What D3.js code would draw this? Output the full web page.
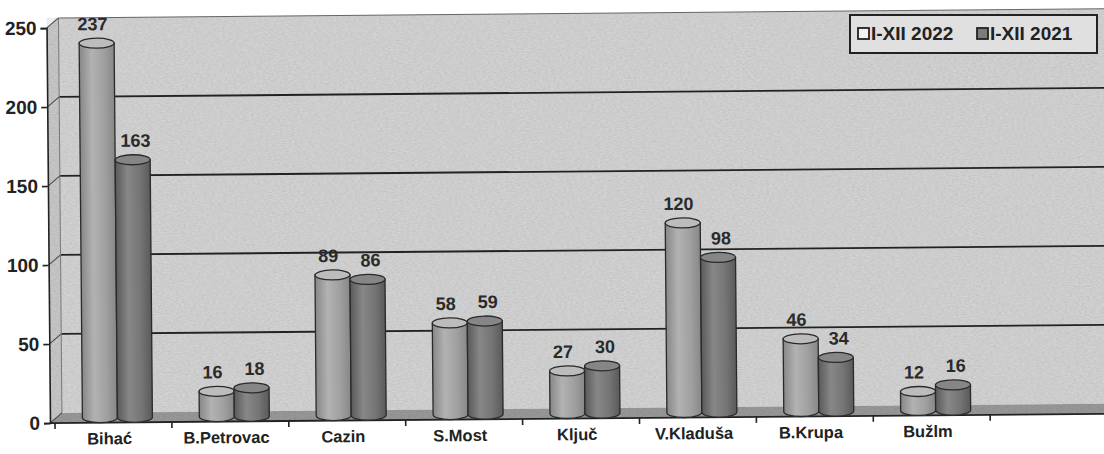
<!DOCTYPE html>
<html>
<head>
<meta charset="utf-8">
<script src="https://cdn.jsdelivr.net/npm/d3@7"></script>
<style>
  body { margin: 0; background: #fff; }
  svg { display: block; font-family: "Liberation Sans", Arial, sans-serif; }
</style>
</head>
<body>
<svg id="svg" width="1104" height="454"></svg>
<script>
// data
var categories = ["Bihać", "B.Petrovac", "Cazin", "S.Most", "Ključ", "V.Kladuša", "B.Krupa", "Bužlm"];
var values2022 = [237, 16, 89, 58, 27, 120, 46, 12];
var values2021 = [163, 18, 86, 59, 30, 98, 34, 16];
var seriesNames = ["I-XII 2022", "I-XII 2021"];
var yTicks = [0, 50, 100, 150, 200, 250];

var svg = d3.select("#svg"),
    width = +svg.attr("width"),
    height = +svg.attr("height");

var depthX = 12, depthY = -10;   // back wall offset
var slots = 9;                    // one empty slot at the right

var x = d3.scaleBand()
    .domain(d3.range(slots))
    .range([55, 55 + slots * 116.9])
    .padding(0);

var y = d3.scaleLinear()
    .domain([0, 250])
    .range([423, 28]);

var defs = svg.append("defs");

// scanned paper grain
var f = defs.append("filter").attr("id", "grain").attr("x", 0).attr("y", 0).attr("width", 1).attr("height", 1);
f.append("feTurbulence").attr("type", "fractalNoise").attr("baseFrequency", "0.35 0.9").attr("numOctaves", 2).attr("seed", 3).attr("result", "n");
f.append("feColorMatrix").attr("type", "matrix")
    .attr("values", "0 0 0 0 0  0 0 0 0 0  0 0 0 0 0  0 0 0 0.14 0");

function cylGrad(id, dark, mid, light) {
    var g = defs.append("linearGradient").attr("id", id).attr("x1", 0).attr("x2", 1);
    g.append("stop").attr("offset", "0%").attr("stop-color", dark);
    g.append("stop").attr("offset", "35%").attr("stop-color", light);
    g.append("stop").attr("offset", "70%").attr("stop-color", mid);
    g.append("stop").attr("offset", "100%").attr("stop-color", dark);
}
cylGrad("c2022", "#878787", "#a0a0a0", "#b2b2b2");
cylGrad("c2021", "#5a5a5a", "#757575", "#878787");
var topFill = ["#bcbcbc", "#868686"];
var swatch = ["#f2f2f2", "#7b7b7b"];

var chart = svg.append("g").attr("transform", "rotate(-0.5, 55, 423)");

var x0 = 50, xEnd = 1130;

// back wall
chart.append("rect")
    .attr("x", x0 + depthX).attr("y", y(250) + depthY)
    .attr("width", xEnd - x0).attr("height", y(0) - y(250))
    .attr("fill", "#dcdcdc");

// left side wall
chart.append("path")
    .attr("d", "M" + x0 + "," + y(0) + "L" + x0 + "," + y(250) +
        "L" + (x0 + depthX) + "," + (y(250) + depthY) + "L" + (x0 + depthX) + "," + (y(0) + depthY) + "Z")
    .attr("fill", "#d0d0d0");

// floor
chart.append("path")
    .attr("d", "M" + x0 + "," + y(0) + "L" + (x0 + depthX) + "," + (y(0) + depthY) +
        "L" + xEnd + "," + (y(0) + depthY) + "L" + xEnd + "," + y(0) + "Z")
    .attr("fill", "#9f9f9f");

// grain overlay
chart.append("rect")
    .attr("x", x0).attr("y", y(250) + depthY)
    .attr("width", xEnd - x0).attr("height", y(0) - y(250) - depthY)
    .attr("filter", "url(#grain)");

// gridlines on back wall + side wall diagonals
var grid = chart.append("g");
grid.selectAll("line.g")
    .data(yTicks.filter(function (d) { return d > 0; }))
    .enter().append("line")
    .attr("x1", x0 + depthX).attr("x2", xEnd)
    .attr("y1", function (d) { return y(d) + depthY; })
    .attr("y2", function (d) { return y(d) + depthY; })
    .attr("stroke", function (d) { return d == 250 ? "#666" : "#222"; })
    .attr("stroke-width", function (d) { return d == 250 ? 1 : 1.8; });
grid.selectAll("line.d")
    .data(yTicks)
    .enter().append("line")
    .attr("x1", x0).attr("y1", function (d) { return y(d); })
    .attr("x2", x0 + depthX).attr("y2", function (d) { return y(d) + depthY; })
    .attr("stroke", "#444").attr("stroke-width", 1);
chart.append("line")
    .attr("x1", x0 + depthX).attr("x2", x0 + depthX)
    .attr("y1", y(0) + depthY).attr("y2", y(250) + depthY)
    .attr("stroke", "#777").attr("stroke-width", 1);

// y axis
var yAxis = chart.append("g")
    .attr("transform", "translate(" + x0 + ",0)")
    .call(d3.axisLeft(y).tickValues(yTicks).tickSize(6).tickPadding(4));
yAxis.select(".domain").attr("stroke", "#222").attr("stroke-width", 1.6);
yAxis.selectAll(".tick line").attr("stroke", "#222").attr("stroke-width", 1.6);
yAxis.selectAll(".tick text")
    .attr("font-size", 19).attr("font-weight", "bold").attr("fill", "#222")
    .attr("font-family", "Liberation Sans, Arial, sans-serif");

// x axis
var xAxis = chart.append("g")
    .attr("transform", "translate(0," + y(0) + ")")
    .call(d3.axisBottom(x).tickSize(0).tickFormat(function (i) { return categories[i] || ""; }).tickPadding(10));
xAxis.select(".domain").remove();
xAxis.append("line").attr("x1", x0).attr("x2", xEnd).attr("stroke", "#222").attr("stroke-width", 1.8);
xAxis.selectAll("line.t")
    .data(d3.range(slots + 1))
    .enter().append("line")
    .attr("x1", function (i) { return x.range()[0] + i * x.bandwidth(); })
    .attr("x2", function (i) { return x.range()[0] + i * x.bandwidth(); })
    .attr("y1", 0).attr("y2", 6)
    .attr("stroke", "#222").attr("stroke-width", 1.6);
xAxis.selectAll(".tick text")
    .attr("font-size", 16.5).attr("font-weight", "bold").attr("fill", "#222")
    .attr("dx", -4)
    .attr("font-family", "Liberation Sans, Arial, sans-serif");

// cylinders
var cw = 35, ry = 5, offX = 4, offY = -5;
var bars = [];
categories.forEach(function (c, i) {
    var cx = x(i) + x.bandwidth() / 2 + offX;
    bars.push({ s: 0, v: values2022[i], left: cx - cw });
    bars.push({ s: 1, v: values2021[i], left: cx });
});

var cyl = chart.append("g").selectAll("g")
    .data(bars)
    .enter().append("g");

cyl.append("path")
    .attr("d", function (d) {
        var top = y(d.v) + offY, bot = y(0) + offY, l = d.left, r = d.left + cw;
        return "M" + l + "," + top + "L" + l + "," + bot +
            "A" + (cw / 2) + "," + ry + " 0 0 0 " + r + "," + bot +
            "L" + r + "," + top + "Z";
    })
    .attr("fill", function (d) { return d.s == 0 ? "url(#c2022)" : "url(#c2021)"; })
    .attr("stroke", "#2a2a2a").attr("stroke-width", 1.3);

cyl.append("ellipse")
    .attr("cx", function (d) { return d.left + cw / 2; })
    .attr("cy", function (d) { return y(d.v) + offY; })
    .attr("rx", cw / 2).attr("ry", ry)
    .attr("fill", function (d) { return topFill[d.s]; })
    .attr("stroke", "#2a2a2a").attr("stroke-width", 1.3);

cyl.append("text")
    .attr("x", function (d) { return d.left + cw / 2 + (d.s == 0 ? -4 : 3); })
    .attr("y", function (d) { return y(d.v) + offY - 13; })
    .attr("text-anchor", "middle")
    .attr("font-size", 18).attr("font-weight", "bold").attr("fill", "#2a2a2a")
    .text(function (d) { return d.v; });

// legend
var legend = svg.append("g").attr("transform", "translate(850,15)");
legend.append("rect")
    .attr("width", 247).attr("height", 38)
    .attr("fill", "#e0e0e0").attr("stroke", "#222").attr("stroke-width", 2);
var items = legend.selectAll("g.item")
    .data(seriesNames)
    .enter().append("g")
    .attr("transform", function (d, i) { return "translate(" + (8 + i * 119) + ",13)"; });
items.append("rect")
    .attr("width", 11).attr("height", 11)
    .attr("fill", function (d, i) { return swatch[i]; })
    .attr("stroke", "#222").attr("stroke-width", 1.8);
items.append("text")
    .attr("x", 13).attr("y", 12)
    .attr("font-size", 19).attr("font-weight", "bold").attr("fill", "#222")
    .text(function (d) { return d; });
</script>
</body>
</html>
